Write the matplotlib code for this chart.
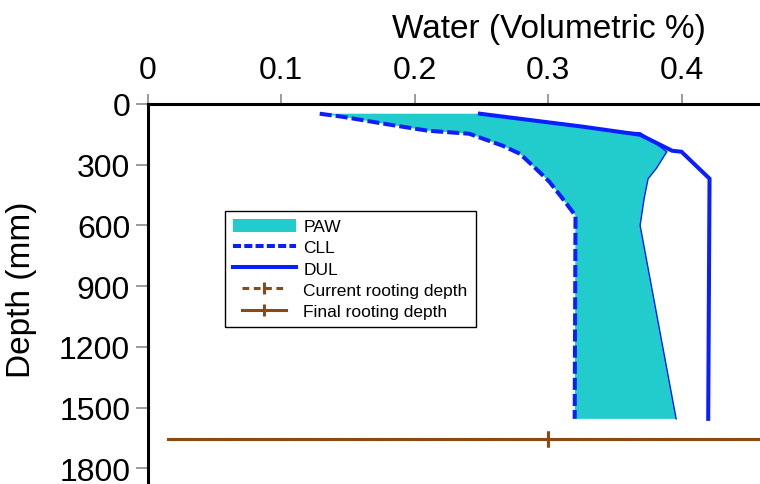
import numpy as np
import matplotlib
matplotlib.use("Agg")
import matplotlib.pyplot as plt
from matplotlib.legend_handler import HandlerLine2D
from matplotlib.patches import Patch
from matplotlib.lines import Line2D

plt.rcParams['font.family'] = ['Liberation Sans', 'DejaVu Sans']

# soil water limits, volumetric fraction against depth (mm)
dul_depth = [48, 112, 152, 231, 236, 369, 1556]
dul = [0.249, 0.326, 0.369, 0.393, 0.400, 0.421, 0.420]

cll_depth = [48, 63, 98, 132, 147, 206, 246, 320, 384, 468, 552, 1556]
cll = [0.129, 0.146, 0.1775, 0.210, 0.241, 0.266, 0.279, 0.291, 0.301, 0.311, 0.3206, 0.320]

# upper edge of the plant available water band
sw_depth = [48, 112, 138, 142, 182, 236, 320, 369, 468, 600, 1556]
sw = [0.249, 0.326, 0.354, 0.369, 0.378, 0.389, 0.381, 0.375, 0.372, 0.369, 0.396]

# rooting depths (mm), line drawn across the profile with a tick at 0.3
root_x = [0.015, 0.3, 0.6]
current_root = 1655
final_root = 1655

xticks = [0, 0.1, 0.2, 0.3, 0.4]
xtick_labels = ['0', '0.1', '0.2', '0.3', '0.4']
yticks = [0, 300, 600, 900, 1200, 1500, 1800]
ytick_labels = ['0', '300', '600', '900', '1200', '1500', '1800']

blue = '#0a1eff'
cyan = '#22cccc'
brown = '#8b4a14'


class ShortLine(HandlerLine2D):
    # legend handle drawn at 70% of the normal length, centred
    def create_artists(self, legend, orig_handle, xdescent, ydescent,
                       width, height, fontsize, trans):
        return super().create_artists(legend, orig_handle,
                                      xdescent - width * 0.15, ydescent,
                                      width * 0.7, height, fontsize, trans)


fig = plt.figure(figsize=(7.6, 4.85), dpi=100)
ax = fig.add_axes([147.5 / 760, 0, 612.5 / 760, 380 / 485])

# PAW band between CLL and the upper edge
poly_x = np.r_[cll, sw[::-1]]
poly_y = np.r_[cll_depth, sw_depth[::-1]]
ax.fill(poly_x, poly_y, color=cyan, lw=0, zorder=1)
ax.plot(sw, sw_depth, color=blue, lw=1.0, zorder=2)

ax.plot(cll, cll_depth, color=blue, lw=2.9, ls=(0, (3, 1)), zorder=3)
ax.plot(dul, dul_depth, color=blue, lw=2.9, zorder=3, solid_joinstyle='miter')

ax.plot(root_x, [current_root] * 3, color=brown, lw=2.2, ls=(0, (3, 1.5)),
        marker='|', markevery=[1], ms=12, mew=2.2, zorder=4)
ax.plot(root_x, [final_root] * 3, color=brown, lw=2.2,
        marker='|', markevery=[1], ms=12, mew=2.2, zorder=5)

ax.set_xlim(0, 612.5 / 1335)
ax.set_ylim(1878, 0)

ax.xaxis.tick_top()
ax.set_xticks(xticks, labels=xtick_labels)
ax.set_yticks(yticks, labels=ytick_labels)
ax.tick_params(axis='both', labelsize=23, direction='out', color='#808080',
               width=1.1)
ax.tick_params(axis='x', length=7.5, pad=6)
ax.tick_params(axis='y', length=8.5, pad=4)

for side in ['right', 'bottom']:
    ax.spines[side].set_visible(False)
for side in ['top', 'left']:
    ax.spines[side].set_linewidth(2.2)
    ax.spines[side].set_color('black')

ax.xaxis.set_label_position('top')
ax.set_xlabel('Water (Volumetric %)', fontsize=24)
ax.xaxis.label.set_va('baseline')
ax.xaxis.set_label_coords(0.655, 1.176)
ax.set_ylabel('Depth (mm)', fontsize=24)
ax.yaxis.set_label_coords(-0.18, 0.513)

handles = [
    Patch(facecolor=cyan, edgecolor='none', label='PAW'),
    Line2D([], [], color=blue, lw=2.9, ls=(0, (2, 0.8)), label='CLL'),
    Line2D([], [], color=blue, lw=2.9, label='DUL'),
    Line2D([], [], color=brown, lw=2.2, ls=(0, (2.2, 1.5)), marker='|',
           ms=9, mew=2.2, label='Current rooting depth'),
    Line2D([], [], color=brown, lw=2.2, marker='|', ms=9, mew=2.2,
           label='Final rooting depth'),
]
leg = ax.legend(handles=handles, loc='upper left',
                bbox_to_anchor=((225 - 147.5) / 612.5, 1 - (212 - 105) / 380),
                borderaxespad=0, fontsize=12.5, frameon=True, fancybox=False,
                framealpha=1, edgecolor='black', handlelength=3.62,
                handleheight=0.75, handletextpad=0.45, labelspacing=0.33,
                borderpad=0.45,
                handler_map={handles[3]: ShortLine(numpoints=1),
                             handles[4]: ShortLine(numpoints=1)})
leg.get_frame().set_linewidth(1.0)

fig.savefig('out.png', dpi=100)
